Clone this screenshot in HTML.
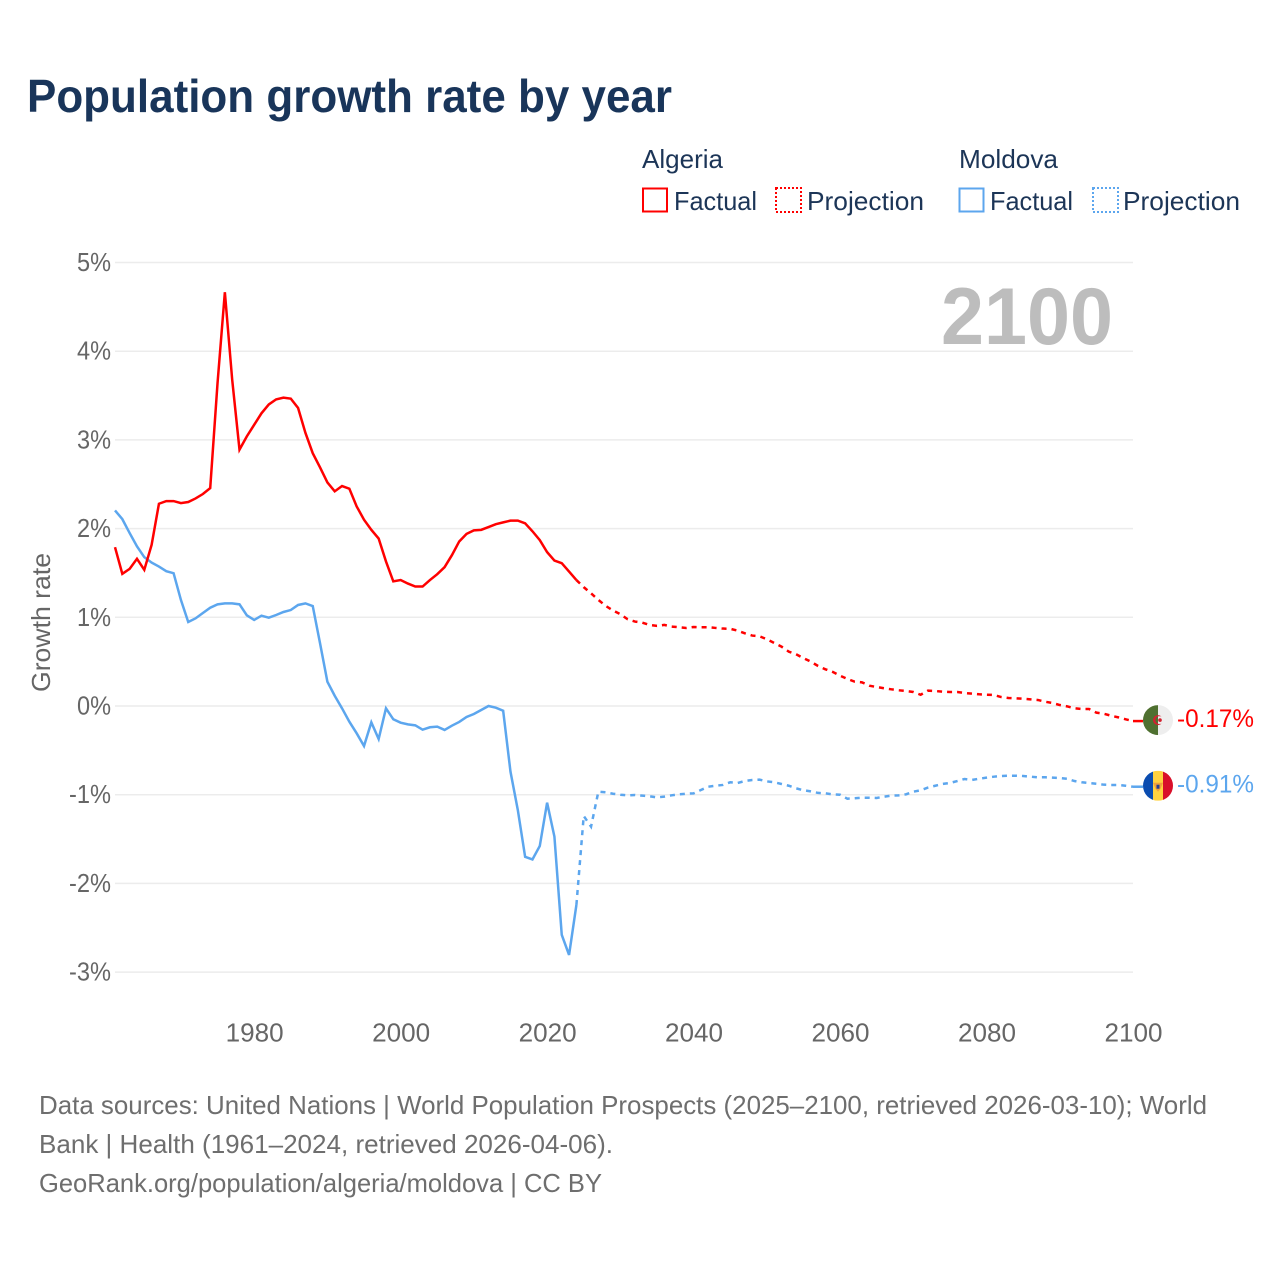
<!DOCTYPE html>
<html lang="en">
<head>
<meta charset="utf-8">
<title>Population growth rate by year</title>
<style>
html,body{margin:0;padding:0;background:#fff;}
svg{display:block;font-family:"Liberation Sans",sans-serif;}
</style>
</head>
<body>
<svg id="chart" xmlns="http://www.w3.org/2000/svg" width="1280" height="1280" viewBox="0 0 1280 1280">
  <defs>
    <clipPath id="flag-clip"><circle cx="0" cy="0" r="15"/></clipPath>
  </defs>
  <rect x="0" y="0" width="1280" height="1280" fill="#ffffff"/>

  <text x="27" y="112" font-size="46" font-weight="700" fill="#19355a" textLength="645" lengthAdjust="spacingAndGlyphs">Population growth rate by year</text>

  <g font-size="26" fill="#1c3557">
    <text x="642" y="168" textLength="81" lengthAdjust="spacingAndGlyphs">Algeria</text>
    <text x="959" y="168" textLength="99" lengthAdjust="spacingAndGlyphs">Moldova</text>
    <g>
      <rect x="643" y="188.5" width="24" height="23" fill="none" stroke="#ff0000" stroke-width="2"/>
      <text x="674" y="210" textLength="83" lengthAdjust="spacingAndGlyphs">Factual</text>
    </g>
    <g>
      <rect x="776" y="188" width="25" height="24" fill="none" stroke="#ff0000" stroke-width="2" stroke-dasharray="2 2"/>
      <text x="807" y="210" textLength="117" lengthAdjust="spacingAndGlyphs">Projection</text>
    </g>
    <g>
      <rect x="959.500" y="188.5" width="24" height="23" fill="none" stroke="#5ca6ee" stroke-width="2"/>
      <text x="990" y="210" textLength="83" lengthAdjust="spacingAndGlyphs">Factual</text>
    </g>
    <g>
      <rect x="1093" y="188" width="25" height="24" fill="none" stroke="#5ca6ee" stroke-width="2" stroke-dasharray="2 2"/>
      <text x="1123" y="210" textLength="117" lengthAdjust="spacingAndGlyphs">Projection</text>
    </g>
  </g>

  <g id="grid"></g>
  <g id="y-axis"></g>
  <g id="x-axis"></g>

  <text transform="translate(50,622.5) rotate(-90)" text-anchor="middle" font-size="26" fill="#666666" textLength="139" lengthAdjust="spacingAndGlyphs">Growth rate</text>

  <text x="941" y="344" font-size="81" font-weight="700" fill="#bdbdbd" textLength="172" lengthAdjust="spacingAndGlyphs">2100</text>

  <g id="series"></g>

  <g id="flag-algeria">
    <g clip-path="url(#flag-clip)">
      <rect x="-15" y="-15" width="15" height="30" fill="#4f7030"/>
      <rect x="0" y="-15" width="15" height="30" fill="#eeeeee"/>
      <circle cx="0" cy="0" r="5" fill="#d3202f"/>
      <circle cx="1.200" cy="0" r="3.800" fill="#4f7030"/>
      <rect x="0" y="-3.800" width="5" height="7.600" fill="#eeeeee"/>
      <circle cx="2" cy="0" r="1.800" fill="#d3202f"/>
    </g>
  </g>
  <g id="flag-moldova">
    <g clip-path="url(#flag-clip)">
      <rect x="-15" y="-15" width="10" height="30" fill="#0a4cb0"/>
      <rect x="-5" y="-15" width="10" height="30" fill="#ffd23f"/>
      <rect x="5" y="-15" width="10" height="30" fill="#d9102a"/>
      <path d="M-5 -3 L5 -3 L2.500 3 L0 6 L-2.500 3 Z" fill="#f0a23c"/>
      <rect x="-1.500" y="-1" width="3" height="4" fill="#2a3f8f"/>
    </g>
  </g>
  <g id="end-labels"></g>

  <g font-size="26" fill="#6e6e6e">
    <text x="39" y="1114" textLength="1168" lengthAdjust="spacingAndGlyphs">Data sources: United Nations | World Population Prospects (2025–2100, retrieved 2026-03-10); World</text>
    <text x="39" y="1153" textLength="574" lengthAdjust="spacingAndGlyphs">Bank | Health (1961–2024, retrieved 2026-04-06).</text>
    <text x="39" y="1192" textLength="563" lengthAdjust="spacingAndGlyphs">GeoRank.org/population/algeria/moldova | CC BY</text>
  </g>
</svg>

<script>
var yTickValues = [5, 4, 3, 2, 1, 0, -1, -2, -3];
var yTickLabels = ["5%", "4%", "3%", "2%", "1%", "0%", "-1%", "-2%", "-3%"];
var xTickValues = [1980, 2000, 2020, 2040, 2060, 2080, 2100];
var xTickLabels = ["1980", "2000", "2020", "2040", "2060", "2080", "2100"];

var factualFirstYear = 1961;
var projectionFirstYear = 2025;

var algeriaFactual = [
  1.79, 1.49, 1.546, 1.66, 1.535, 1.817, 2.28, 2.31, 2.31, 2.288,
  2.30, 2.34, 2.39, 2.457, 3.64, 4.665, 3.68, 2.89, 3.04, 3.17,
  3.30, 3.40, 3.457, 3.476, 3.465, 3.36, 3.08, 2.85, 2.69, 2.52,
  2.42, 2.48, 2.45, 2.25, 2.10, 1.986, 1.888, 1.63, 1.405, 1.42,
  1.38, 1.347, 1.347, 1.42, 1.486, 1.565, 1.70, 1.855, 1.94, 1.98,
  1.986, 2.017, 2.05, 2.07, 2.09, 2.09, 2.06, 1.97, 1.87, 1.735,
  1.64, 1.61, 1.516, 1.42
];
var algeriaProjection = [
  1.34, 1.27, 1.196, 1.129, 1.076, 1.035, 0.978, 0.952, 0.94, 0.914,
  0.903, 0.914, 0.895, 0.888, 0.88, 0.89, 0.888, 0.888, 0.88, 0.873,
  0.87, 0.85, 0.82, 0.794, 0.786, 0.753, 0.711, 0.67, 0.613, 0.583,
  0.54, 0.5, 0.451, 0.414, 0.384, 0.342, 0.305, 0.274, 0.267, 0.229,
  0.214, 0.2, 0.188, 0.177, 0.169, 0.158, 0.127, 0.173, 0.169, 0.161,
  0.158, 0.158, 0.147, 0.139, 0.132, 0.127, 0.124, 0.101, 0.09, 0.087,
  0.082, 0.075, 0.068, 0.048, 0.034, 0.011, -0.004, -0.026, -0.034, -0.034,
  -0.075, -0.087, -0.109, -0.128, -0.15, -0.17
];
var moldovaFactual = [
  2.205, 2.107, 1.95, 1.80, 1.678, 1.617, 1.572, 1.52, 1.497, 1.196,
  0.947, 0.988, 1.048, 1.108, 1.146, 1.157, 1.157, 1.146, 1.022, 0.97,
  1.018, 0.996, 1.026, 1.06, 1.082, 1.139, 1.157, 1.127, 0.706, 0.274,
  0.116, -0.026, -0.177, -0.308, -0.451, -0.184, -0.372, -0.026, -0.15, -0.188,
  -0.207, -0.218, -0.267, -0.24, -0.233, -0.27, -0.222, -0.18, -0.124, -0.09,
  -0.045, 0, -0.019, -0.053, -0.74, -1.172, -1.70, -1.73, -1.578, -1.09,
  -1.473, -2.58, -2.807, -2.243
];
var moldovaProjection = [
  -1.24, -1.36, -0.966, -0.973, -0.989, -1.0, -1.007, -1.003, -1.011, -1.018,
  -1.03, -1.022, -1.007, -0.996, -0.989, -0.985, -0.947, -0.91, -0.899, -0.89,
  -0.86, -0.868, -0.846, -0.834, -0.83, -0.85, -0.86, -0.879, -0.899, -0.928,
  -0.95, -0.962, -0.98, -0.985, -0.996, -1.0, -1.045, -1.04, -1.034, -1.034,
  -1.037, -1.022, -1.011, -1.007, -0.996, -0.966, -0.95, -0.92, -0.899, -0.879,
  -0.868, -0.846, -0.823, -0.834, -0.82, -0.808, -0.797, -0.789, -0.786, -0.786,
  -0.789, -0.797, -0.804, -0.804, -0.808, -0.812, -0.82, -0.846, -0.86, -0.868,
  -0.876, -0.887, -0.89, -0.89, -0.899, -0.91
];

var NS = "http://www.w3.org/2000/svg";
function xScale(year) { return 115 + (year - 1961) * (1133 - 115) / (2100 - 1961); }
function yScale(v) { return 706 - v * 88.7; }

function pathFrom(values, firstYear, prepend) {
  var pts = [];
  if (prepend) {
    pts.push(xScale(prepend.year).toFixed(2) + " " + yScale(prepend.value).toFixed(2));
  }
  for (var i = 0; i < values.length; i++) {
    pts.push(xScale(firstYear + i).toFixed(2) + " " + yScale(values[i]).toFixed(2));
  }
  return "M" + pts.join(" L");
}

var grid = document.getElementById("grid");
var yAxis = document.getElementById("y-axis");
var xAxis = document.getElementById("x-axis");
var series = document.getElementById("series");
var endLabels = document.getElementById("end-labels");

yTickValues.forEach(function (v, i) {
  var line = document.createElementNS(NS, "line");
  
  
  line.setAttribute("x1", xScale(1961));
  line.setAttribute("x2", xScale(2100));
  line.setAttribute("y1", yScale(v));
  line.setAttribute("y2", yScale(v));
  line.setAttribute("stroke", "#ececec");
  line.setAttribute("stroke-width", "1.5");
  grid.appendChild(line);

  var label = document.createElementNS(NS, "text");
  
  
  label.setAttribute("x", 111);
  label.setAttribute("y", yScale(v) + 8.5);
  label.setAttribute("text-anchor", "end");
  label.setAttribute("font-size", "26");
  label.setAttribute("fill", "#666666");
  label.setAttribute("textLength", v < 0 ? "42" : "34");
  label.setAttribute("lengthAdjust", "spacingAndGlyphs");
  label.textContent = yTickLabels[i];
  yAxis.appendChild(label);
});

xTickValues.forEach(function (year, i) {
  var label = document.createElementNS(NS, "text");
  
  
  label.setAttribute("x", xScale(year) + 0.5);
  label.setAttribute("y", 1041.5);
  label.setAttribute("text-anchor", "middle");
  label.setAttribute("font-size", "26");
  label.setAttribute("fill", "#666666");
  label.setAttribute("textLength", "58");
  label.setAttribute("lengthAdjust", "spacingAndGlyphs");
  label.textContent = xTickLabels[i];
  xAxis.appendChild(label);
});

function addLine(d, color, dashed, name) {
  var p = document.createElementNS(NS, "path");
  
  
  p.setAttribute("d", d);
  p.setAttribute("fill", "none");
  p.setAttribute("stroke", color);
  p.setAttribute("stroke-width", "2.5");
  p.setAttribute("stroke-linejoin", "miter");
  if (dashed) { p.setAttribute("stroke-dasharray", "5 5"); }
  series.appendChild(p);
}

var redColor = "#ff0000";
var blueColor = "#5ca6ee";
var lastFactualYear = factualFirstYear + algeriaFactual.length - 1;

addLine(pathFrom(moldovaFactual, factualFirstYear), blueColor, false, "line-moldova-factual");
addLine(pathFrom(moldovaProjection, projectionFirstYear, { year: lastFactualYear, value: moldovaFactual[moldovaFactual.length - 1] }), blueColor, true, "line-moldova-projection");
addLine(pathFrom(algeriaFactual, factualFirstYear), redColor, false, "line-algeria-factual");
addLine(pathFrom(algeriaProjection, projectionFirstYear, { year: lastFactualYear, value: algeriaFactual[algeriaFactual.length - 1] }), redColor, true, "line-algeria-projection");

function placeEnd(values, flagId, color, name, labelDy) {
  var last = values[values.length - 1];
  var y = yScale(last);
  var endX = xScale(2100);
  addLine("M" + endX + " " + y + " L" + (endX + 10) + " " + y, color, false, name + "-end-connector");
  document.getElementById(flagId).setAttribute("transform", "translate(" + (endX + 25) + "," + (y - 1) + ")");
  var label = document.createElementNS(NS, "text");
  
  
  label.setAttribute("x", 1177);
  label.setAttribute("y", y + labelDy);
  label.setAttribute("font-size", "25");
  label.setAttribute("fill", color);
  label.setAttribute("textLength", "77");
  label.setAttribute("lengthAdjust", "spacingAndGlyphs");
  label.textContent = last.toFixed(2) + "%";
  endLabels.appendChild(label);
}
placeEnd(algeriaProjection, "flag-algeria", redColor, "algeria", 6);
placeEnd(moldovaProjection, "flag-moldova", blueColor, "moldova", 6);
</script>
</body>
</html>
